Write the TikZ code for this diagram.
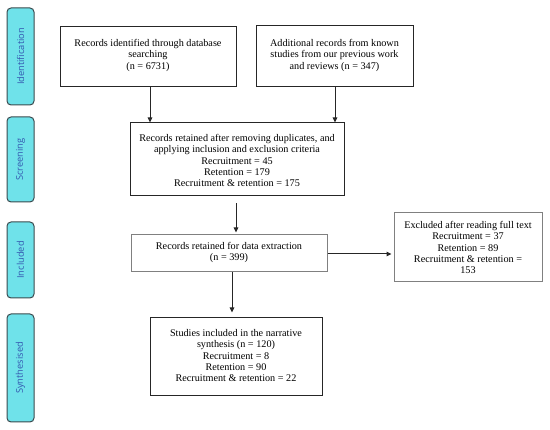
\documentclass[tikz,border=0pt]{standalone}
\usepackage{fontspec}
\setmainfont{Liberation Serif}
\newfontfamily\labfont{Open Sans}
\usetikzlibrary{arrows.meta}
\definecolor{sidefill}{HTML}{6FE2EA}
\definecolor{sideline}{HTML}{3A4A4E}
\definecolor{sidetext}{HTML}{3458B0}
\definecolor{greyline}{HTML}{808080}
\tikzset{
  side/.style={draw=sideline, line width=1pt, fill=sidefill, rounded corners=4pt, minimum width=27pt, inner sep=0pt},
  sidelab/.style={rotate=90, font=\labfont\fontsize{9.3}{10}\selectfont, text=sidetext},
  box/.style={draw=black!85, line width=1pt, inner sep=0pt},
  gbox/.style={draw=greyline, line width=1pt, inner sep=0pt},
  txt/.style={anchor=north, align=center, inner sep=0pt, font=\fontsize{10.2}{11.4}\selectfont},
  arr/.style={-{Triangle[length=5pt,width=4.5pt]}, line width=1pt, black!85}
}
\begin{document}
\begin{tikzpicture}[x=1pt,y=-1pt]
\useasboundingbox (0,0) rectangle (550,430);
% side labels
\node[side, minimum height=97pt] (s1) at (20.5,56.5) {};
\node[sidelab] (l1) at (s1.center) {Identification};
\node[side, minimum height=85pt] (s2) at (20.5,159.5) {};
\node[sidelab] (l2) at (s2.center) {Screening};
\node[side, minimum height=76pt] (s3) at (20.5,260) {};
\node[sidelab] (l3) at (s3.center) {Included};
\node[side, minimum height=108pt] (s4) at (20.5,368) {};
\node[sidelab] (l4) at (s4.center) {Synthesised};
% boxes
\node[box, minimum width=176pt, minimum height=60pt] (b1) at (148,57) {};
\node[txt] (t1) at ([yshift=-12.5pt]b1.north) {Records identified through database\\searching\\(n = 6731)};
\node[box, minimum width=157pt, minimum height=61pt] (b2) at (334.5,56.5) {};
\node[txt] (t2) at ([yshift=-13.5pt]b2.north) {Additional records from known\\studies from our previous work\\and reviews (n = 347)};
\node[box, minimum width=214pt, minimum height=73pt] (b3) at (237,159.5) {};
\node[txt] (t3) at ([yshift=-11.5pt]b3.north) {Records retained after removing duplicates, and\\applying inclusion and exclusion criteria\\Recruitment = 45\\Retention = 179\\Recruitment \& retention = 175};
\node[gbox, minimum width=196pt, minimum height=37pt] (b4) at (229,253.5) {};
\node[txt] (t4) at ([yshift=-7.5pt]b4.north) {Records retained for data extraction\\(n = 399)};
\node[gbox, minimum width=148pt, minimum height=69pt] (b5) at (468,247.5) {};
\node[txt] (t5) at ([yshift=-8.5pt]b5.north) {Excluded after reading full text\\Recruitment = 37\\Retention = 89\\Recruitment \& retention =\\153};
\node[box, minimum width=172pt, minimum height=78pt] (b6) at (236,357) {};
\node[txt] (t6) at ([yshift=-11.5pt]b6.north) {Studies included in the narrative\\synthesis (n = 120)\\Recruitment = 8\\Retention = 90\\Recruitment \& retention = 22};
% arrows
\draw[arr] (b1.south -| 150,0) -- (b3.north -| 150,0);
\draw[arr] (b2.south -| 335,0) -- (b3.north -| 335,0);
\draw[arr, shorten <=7pt, shorten >=2pt] (b3.south -| 236,0) -- (b4.north -| 236,0);
\draw[arr, shorten >=2pt] (b4.east |- 0,254) -- (b5.west |- 0,254);
\draw[arr, shorten >=5pt] (b4.south -| 232,0) -- (b6.north -| 232,0);
\end{tikzpicture}
\end{document}
